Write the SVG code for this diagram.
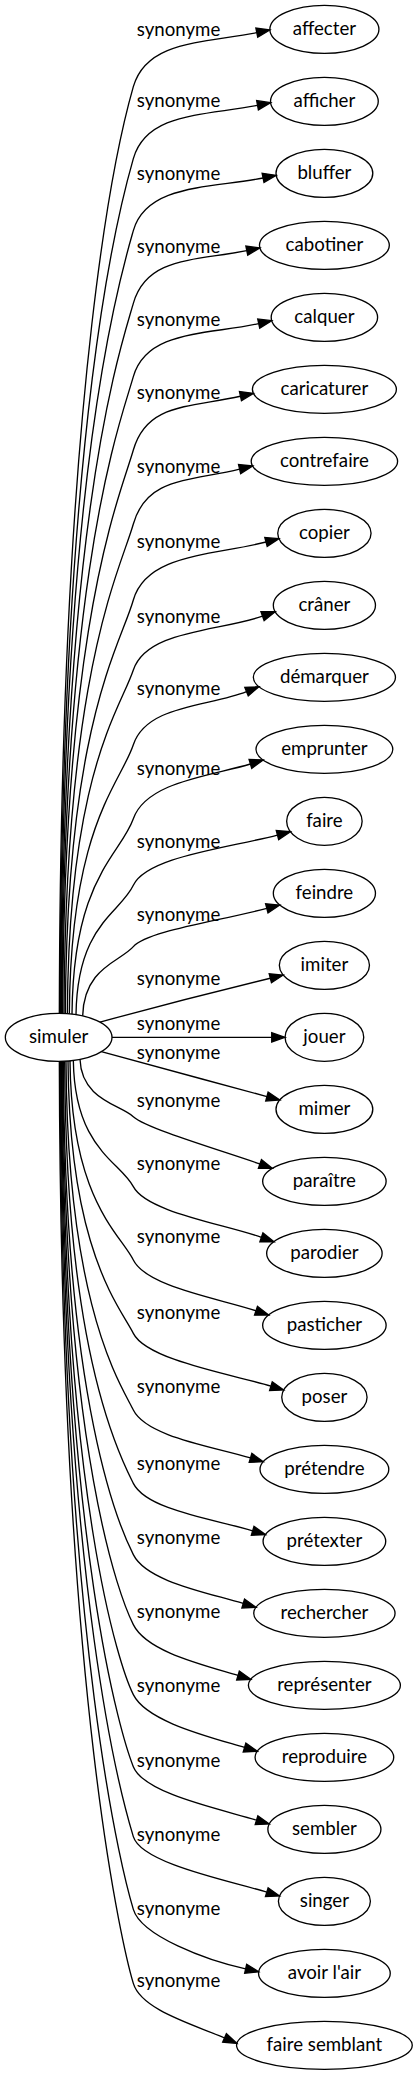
<svg xmlns="http://www.w3.org/2000/svg" width="418" height="2075" viewBox="0 0 418 2075">
<style>
.node ellipse{fill:none;stroke:#000;stroke-width:1}
text{font-family:Lato,"Liberation Sans",sans-serif;font-size:14px;fill:#000;text-anchor:middle}
.edges path{fill:none;stroke:#000;stroke-width:1}
.edges polygon{fill:#000;stroke:#000;stroke-width:1}
</style>
<rect width="418" height="2075" fill="#fff"/>
<g transform="scale(1.33333)">
<g id="edges" class="edges">
<path d="M44.5,760 C45.5,273.5 90,100 100,65 S153.4,32.3 192.6,24.5"/><polygon points="202.4,22.5 191.9,21 193.3,27.9"/><text x="133.9" y="27">synonyme</text>
<path d="M45,760 C46,311.3 90,154 100,119 S153.9,86.8 193.2,79"/><polygon points="203,77 192.5,75.5 193.8,82.4"/><text x="133.9" y="80.5">synonyme</text>
<path d="M45.5,760 C46.5,349.1 90,208 100,173 S158.1,141.3 197.3,133.5"/><polygon points="207.1,131.5 196.6,130 198,136.9"/><text x="133.9" y="135">synonyme</text>
<path d="M46,760 C47,387.3 90,262.5 100,227.5 S145.9,195.8 185.1,188"/><polygon points="194.9,186 184.4,184.5 185.8,191.4"/><text x="133.9" y="189.5">synonyme</text>
<path d="M46.5,760 C47.5,425.8 90,317.5 100,282.5 S155,251.3 194,242.7"/><polygon points="203.8,240.5 193.3,239.2 194.8,246.1"/><text x="133.9" y="244.5">synonyme</text>
<path d="M47,760.1 C48,464.3 90,372.5 100,337.5 S141.2,305.8 180.3,297.2"/><polygon points="190.1,295 179.6,293.7 181.1,300.6"/><text x="133.9" y="299.5">synonyme</text>
<path d="M48,760.1 C49,503.1 90,428 100,393 S140.8,361.2 179.7,351.8"/><polygon points="189.5,349.5 178.9,348.4 180.5,355.2"/><text x="133.9" y="355">synonyme</text>
<path d="M49,760.1 C50,543 90,485 100,450 S160.8,416.6 199.5,406.5"/><polygon points="209.2,404 198.6,403.1 200.4,409.9"/><text x="133.9" y="411">synonyme</text>
<path d="M50.5,760.2 C51.5,579.8 90,532.5 100,502.5 S163.9,473.6 196.9,462.1"/><polygon points="206.4,458.8 195.7,458.8 198.1,465.4"/><text x="133.9" y="467.5">synonyme</text>
<path d="M52,760.4 C53,619.1 90,588.5 100,558.5 S157,529.9 184.9,518.7"/><polygon points="194.2,515 183.6,515.5 186.2,522"/><text x="133.9" y="521.5">synonyme</text>
<path d="M54,760.6 C55,658 90,642 100,614 S159.1,581.8 187.8,573"/><polygon points="197.3,570 186.8,569.6 188.8,576.3"/><text x="133.9" y="581">synonyme</text>
<path d="M57,761 C58,693.1 90,685.3 100,664 S169.4,636.3 208.1,626.3"/><polygon points="217.8,623.8 207.2,622.9 209,629.7"/><text x="133.9" y="636">synonyme</text>
<path d="M62,761.9 C63,725.6 90,721.4 100,710 S161.4,691.3 200.1,681.3"/><polygon points="209.8,678.8 199.2,677.9 201,684.7"/><text x="133.9" y="691">synonyme</text>
<path d="M75,766.6 C110,757 160,744 202.7,733.7"/><polygon points="212.4,731.3 201.9,730.3 203.6,737.1"/><text x="133.9" y="739">synonyme</text>
<path d="M84,778 L203.8,778"/><polygon points="213.8,778 203.8,774.5 203.8,781.5"/><text x="133.9" y="772.5">synonyme</text>
<path d="M76,788.8 C110,798 160,811.6 200.2,822.4"/><polygon points="209.9,825 201.1,819 199.3,825.8"/><text x="133.9" y="794">synonyme</text>
<path d="M60,794.5 C61,824.6 90,828.5 100,837.5 S166.6,863 195,873"/><polygon points="204.4,876.3 196.1,869.7 193.8,876.3"/><text x="133.9" y="830">synonyme</text>
<path d="M55,795.3 C56,861.6 90,871 100,890 S167.7,918 196.1,928"/><polygon points="205.5,931.3 197.2,924.7 194.9,931.3"/><text x="133.9" y="877.5">synonyme</text>
<path d="M52.5,795.6 C53.5,900.2 90,925 100,945 S163.5,973.7 192,983.1"/><polygon points="201.5,986.3 193.1,979.8 190.9,986.4"/><text x="133.9" y="932.5">synonyme</text>
<path d="M51,795.7 C52,938.7 90,980 100,1000 S174.5,1031 203.2,1039.6"/><polygon points="212.8,1042.5 204.2,1036.3 202.2,1043"/><text x="133.9" y="989">synonyme</text>
<path d="M49.5,795.8 C50.5,979 90,1037.5 100,1057.5 S159.2,1084.8 187.9,1093.4"/><polygon points="197.5,1096.3 188.9,1090.1 186.9,1096.8"/><text x="133.9" y="1045">synonyme</text>
<path d="M48.5,795.9 C49.5,1017.5 90,1092.5 100,1112.5 S160.8,1139.5 189.5,1148.1"/><polygon points="199.1,1151 190.5,1144.8 188.5,1151.5"/><text x="133.9" y="1102.5">synonyme</text>
<path d="M47.5,795.9 C48.5,1055 90,1146 100,1166 S153.7,1194 182.4,1202.6"/><polygon points="192,1205.5 183.4,1199.3 181.4,1206"/><text x="133.9" y="1158">synonyme</text>
<path d="M47,796 C48,1091.8 90,1198.5 100,1218.5 S149.8,1248 178.5,1256.6"/><polygon points="188.1,1259.5 179.5,1253.3 177.5,1260"/><text x="133.9" y="1213.5">synonyme</text>
<path d="M46.5,796 C47.5,1128.5 90,1251 100,1271 S154.7,1302 183.4,1310.6"/><polygon points="193,1313.5 184.4,1307.3 182.4,1314"/><text x="133.9" y="1269">synonyme</text>
<path d="M46,796 C47,1166.3 92,1305 100,1325 S163.7,1356.5 192.4,1365.1"/><polygon points="202,1368 193.4,1361.8 191.4,1368.5"/><text x="133.9" y="1325">synonyme</text>
<path d="M45.5,796 C46.5,1203 94,1357.5 100,1377.5 S171.4,1410.5 200.1,1419.1"/><polygon points="209.7,1422 201.1,1415.8 199.1,1422.5"/><text x="133.9" y="1380.5">synonyme</text>
<path d="M45,796 C46,1241.2 94,1412 100,1432 S154.9,1470.2 184.2,1476.6"/><polygon points="194,1478.8 185,1473.2 183.5,1480"/><text x="133.9" y="1436">synonyme</text>
<path d="M44.5,796 C45.5,1280 94,1467.5 100,1487.5 S145.5,1518.4 168.4,1528.5"/><polygon points="177.6,1532.5 169.8,1525.3 167,1531.7"/><text x="133.9" y="1490">synonyme</text>
</g>
<g id="simuler" class="node"><ellipse cx="44" cy="778" rx="40" ry="18"/><text x="44" y="782.5">simuler</text></g>
<g id="affecter" class="node"><ellipse cx="243.3" cy="22" rx="40.9" ry="18"/><text x="243.3" y="26.5">affecter</text></g>
<g id="afficher" class="node"><ellipse cx="243.3" cy="76" rx="40.4" ry="18"/><text x="243.3" y="80.5">afficher</text></g>
<g id="bluffer" class="node"><ellipse cx="243.3" cy="130" rx="36.3" ry="18"/><text x="243.3" y="134.5">bluffer</text></g>
<g id="cabotiner" class="node"><ellipse cx="243.3" cy="184" rx="48.7" ry="18"/><text x="243.3" y="188.5">cabotiner</text></g>
<g id="calquer" class="node"><ellipse cx="243.3" cy="238" rx="39.9" ry="18"/><text x="243.3" y="242.5">calquer</text></g>
<g id="caricaturer" class="node"><ellipse cx="243.3" cy="292" rx="54" ry="18"/><text x="243.3" y="296.5">caricaturer</text></g>
<g id="contrefaire" class="node"><ellipse cx="243.3" cy="346" rx="54.9" ry="18"/><text x="243.3" y="350.5">contrefaire</text></g>
<g id="copier" class="node"><ellipse cx="243.3" cy="400" rx="35" ry="18"/><text x="243.3" y="404.5">copier</text></g>
<g id="craner" class="node"><ellipse cx="243.3" cy="454" rx="38.3" ry="18"/><text x="243.3" y="458.5">crâner</text></g>
<g id="demarquer" class="node"><ellipse cx="243.3" cy="508" rx="53.3" ry="18"/><text x="243.3" y="512.5">démarquer</text></g>
<g id="emprunter" class="node"><ellipse cx="243.3" cy="562" rx="51.3" ry="18"/><text x="243.3" y="566.5">emprunter</text></g>
<g id="faire" class="node"><ellipse cx="243.3" cy="616" rx="28.3" ry="18"/><text x="243.3" y="620.5">faire</text></g>
<g id="feindre" class="node"><ellipse cx="243.3" cy="670" rx="38.3" ry="18"/><text x="243.3" y="674.5">feindre</text></g>
<g id="imiter" class="node"><ellipse cx="243.3" cy="724" rx="33.8" ry="18"/><text x="243.3" y="728.5">imiter</text></g>
<g id="jouer" class="node"><ellipse cx="243.3" cy="778" rx="29.5" ry="18"/><text x="243.3" y="782.5">jouer</text></g>
<g id="mimer" class="node"><ellipse cx="243.3" cy="832" rx="36.3" ry="18"/><text x="243.3" y="836.5">mimer</text></g>
<g id="paraitre" class="node"><ellipse cx="243.3" cy="886" rx="46.3" ry="18"/><text x="243.3" y="890.5">paraître</text></g>
<g id="parodier" class="node"><ellipse cx="243.3" cy="940" rx="43.3" ry="18"/><text x="243.3" y="944.5">parodier</text></g>
<g id="pasticher" class="node"><ellipse cx="243.3" cy="994" rx="46.3" ry="18"/><text x="243.3" y="998.5">pasticher</text></g>
<g id="poser" class="node"><ellipse cx="243.3" cy="1048" rx="32" ry="18"/><text x="243.3" y="1052.5">poser</text></g>
<g id="pretendre" class="node"><ellipse cx="243.3" cy="1102" rx="48.3" ry="18"/><text x="243.3" y="1106.5">prétendre</text></g>
<g id="pretexter" class="node"><ellipse cx="243.3" cy="1156" rx="46" ry="18"/><text x="243.3" y="1160.5">prétexter</text></g>
<g id="rechercher" class="node"><ellipse cx="243.3" cy="1210" rx="53" ry="18"/><text x="243.3" y="1214.5">rechercher</text></g>
<g id="representer" class="node"><ellipse cx="243.3" cy="1264" rx="57" ry="18"/><text x="243.3" y="1268.5">représenter</text></g>
<g id="reproduire" class="node"><ellipse cx="243.3" cy="1318" rx="52" ry="18"/><text x="243.3" y="1322.5">reproduire</text></g>
<g id="sembler" class="node"><ellipse cx="243.3" cy="1372" rx="42.4" ry="18"/><text x="243.3" y="1376.5">sembler</text></g>
<g id="singer" class="node"><ellipse cx="243.3" cy="1426" rx="34.5" ry="18"/><text x="243.3" y="1430.5">singer</text></g>
<g id="avoir_l_air" class="node"><ellipse cx="243.3" cy="1480" rx="49.4" ry="18"/><text x="243.3" y="1484.5">avoir l'air</text></g>
<g id="faire_semblant" class="node"><ellipse cx="243.3" cy="1534" rx="65.9" ry="18"/><text x="243.3" y="1538.5">faire semblant</text></g>
</g>
</svg>
